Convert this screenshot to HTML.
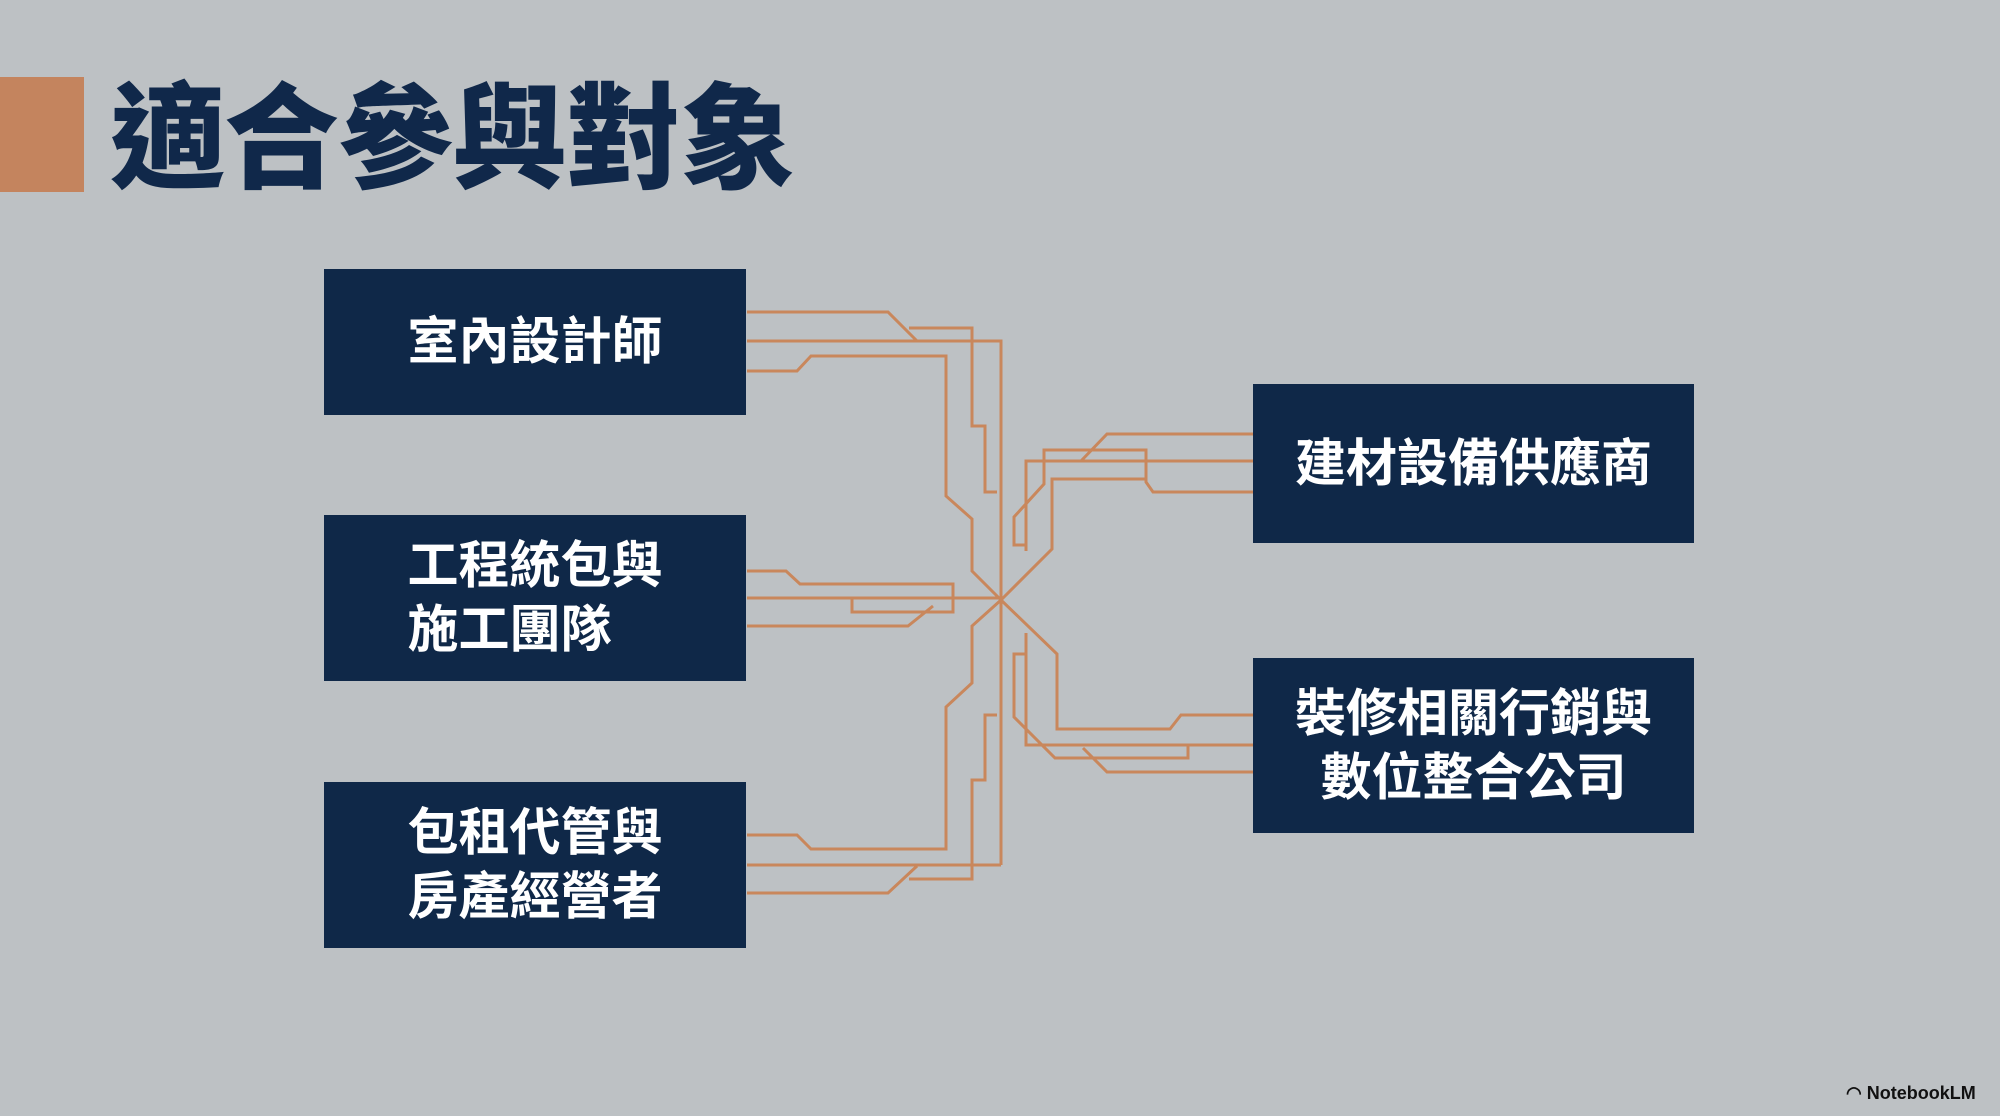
<!DOCTYPE html>
<html><head><meta charset="utf-8"><style>
html,body{margin:0;padding:0}
body{width:2000px;height:1116px;background:#bdc1c4;position:relative;overflow:hidden;font-family:"Liberation Sans","Noto Sans CJK TC",sans-serif}
.bar{position:absolute;left:0;top:77px;width:84px;height:115px;background:#c4845e}
.title{position:absolute;left:110px;top:70px;font-size:115px;font-weight:900;color:#10284a;line-height:140px;letter-spacing:-1px;white-space:nowrap}
.box{position:absolute;background:#0f2848;color:#fff;font-weight:700;font-size:51px;line-height:64px;display:flex;align-items:center;justify-content:center}
.box span{display:inline-block}
.l span{text-align:left}.r span{text-align:center}
.wm{position:absolute;left:1846px;top:1083px;font-size:18px;font-weight:700;color:#111}
svg{position:absolute;left:0;top:0}
</style></head><body>
<div class="bar"></div>
<div class="title">適合參與對象</div>
<svg width="2000" height="1116" fill="none" stroke="#c9875c" stroke-width="3" stroke-linejoin="miter">
<polyline points="747,312 888,312 917,341"/>
<polyline points="909,328 972,328 972,426 985,426 985,492 997,492"/>
<polyline points="747,341 1001,341 1001,865"/>
<polyline points="747,371 797,371 811,356 946,356 946,496 972,519 972,571 1001,600"/>
<polyline points="747,571 786,571 800,584 953,584 953,612 852,612 852,598"/>
<polyline points="747,598 1001,598"/>
<polyline points="747,626 908,626 933,606"/>
<polyline points="747,835 797,835 811,849 946,849 946,707 972,683 972,626 1001,600"/>
<polyline points="747,865 1001,865"/>
<polyline points="747,893 888,893 917,866"/>
<polyline points="909,879 972,879 972,780 985,780 985,715 997,715"/>
<polyline points="1253,434 1107,434 1081,461"/>
<polyline points="1253,461 1026,461 1026,551"/>
<polyline points="1253,492 1153,492 1146,482 1146,450 1044,450 1044,484 1014,517 1014,545 1025,545"/>
<polyline points="1146,479 1052,479 1052,549 1001,600"/>
<polyline points="1253,715 1181,715 1170,729 1057,729 1057,654 1001,600"/>
<polyline points="1253,745 1026,745 1026,633"/>
<polyline points="1253,772 1107,772 1083,748"/>
<polyline points="1188,745 1188,758 1055,758 1014,717 1014,654 1025,654"/>
</svg>
<div class="box l" style="left:324px;top:269px;width:422px;height:146px"><span>室內設計師</span></div>
<div class="box l" style="left:324px;top:515px;width:422px;height:166px"><span>工程統包與<br>施工團隊</span></div>
<div class="box l" style="left:324px;top:782px;width:422px;height:166px"><span>包租代管與<br>房產經營者</span></div>
<div class="box r" style="left:1253px;top:384px;width:441px;height:159px"><span>建材設備供應商</span></div>
<div class="box r" style="left:1253px;top:658px;width:441px;height:175px"><span>裝修相關行銷與<br>數位整合公司</span></div>
<div class="wm">◠ NotebookLM</div>
</body></html>
